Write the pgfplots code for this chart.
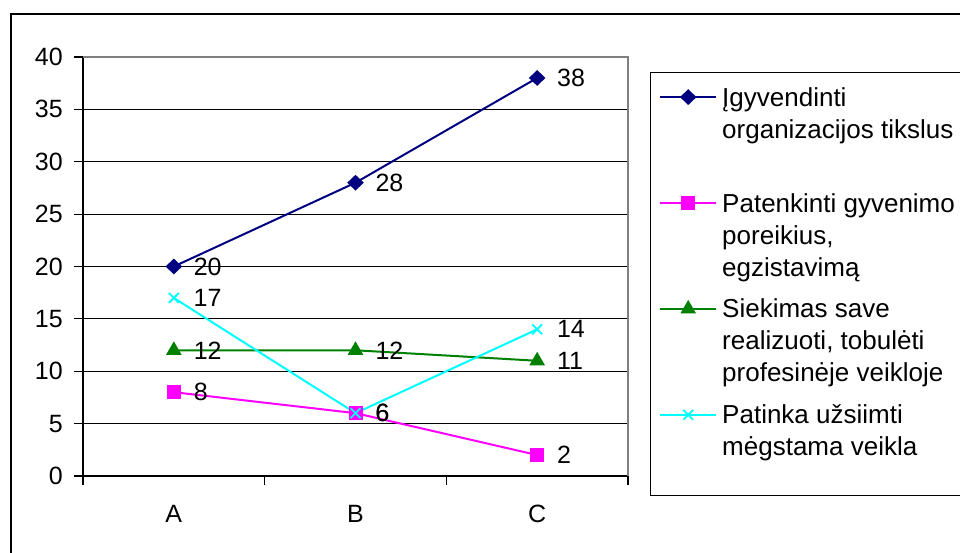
\documentclass[border=0pt]{standalone}
\usepackage{pgfplots}
\pgfplotsset{compat=1.18}
\usepackage{fontspec}
\setmainfont{Liberation Sans}
\definecolor{navyc}{RGB}{0,0,128}
\definecolor{magc}{RGB}{255,0,255}
\definecolor{greenc}{RGB}{0,128,0}
\definecolor{cyanc}{RGB}{0,255,255}
\definecolor{bordergray}{RGB}{128,128,128}
\begin{document}
\begin{tikzpicture}[font=\fontsize{25}{32}\selectfont]
\useasboundingbox (0,0) rectangle (960pt,553pt);
\clip (0,0) rectangle (960pt,553pt);
\fill[white] (0,0) rectangle (960pt,553pt);
\draw[line width=2.5pt] (11pt,-20pt) -- (11pt,539pt) -- (990pt,539pt);
\begin{axis}[
  at={(83pt,77pt)}, anchor=south west,
  scale only axis, width=545pt, height=419pt,
  xmin=-0.5, xmax=2.5, ymin=0, ymax=40,
  axis lines*=left,
  axis line style={line width=1.5pt, black},
  xtick={0,1,2}, xticklabels={A,B,C},
  minor xtick={-0.5,0.5,1.5,2.5},
  ytick={0,5,...,40},
  tick align=outside,
  major tick length=9pt, minor tick length=9pt,
  major x tick style={draw=none},
  minor x tick style={line width=1.2pt, black},
  major y tick style={line width=1.2pt, black},
  ymajorgrids=true,
  major grid style={line width=1pt, black},
  /pgf/number format/assume math mode=true,
  yticklabel style={inner sep=0pt, xshift=-11pt},
  xticklabel style={inner sep=0pt, yshift=-20pt},
  clip=false,
  every node near coord/.append style={anchor=west, inner sep=0pt, xshift=19pt, text=black, font=\fontsize{25}{32}\selectfont},
  legend style={at={(1.0404,0.9618)}, anchor=north west, draw=none, fill=none,
    inner xsep=9pt, inner ysep=8.5pt, row sep=78pt, column sep=3pt,
    cells={anchor=base west, inner sep=0pt}, font=\fontsize{26}{32}\selectfont},
  legend image code/.code={\draw[mark repeat=2,mark phase=2,#1] plot coordinates {(0pt,0pt) (28pt,0pt) (56pt,0pt)};},
  legend image post style={yshift=9pt},
  extra description/.code={
    \draw[bordergray, line width=1.5pt] (rel axis cs:0,1) -- (rel axis cs:1,1) -- (rel axis cs:1,0);
    \draw[black, line width=1pt] (rel axis cs:1.04037,0.96181) rectangle (rel axis cs:1.664,-0.04773);
  },
]
\addplot[color=navyc, line width=2pt, mark=diamond*, mark size=6.5pt, mark options={solid, fill=navyc, xscale=1.4}, nodes near coords] coordinates {(0,20) (1,28) (2,38)};
\addlegendentry{\parbox[t]{250pt}{\strut Įgyvendinti\\\strut organizacijos tikslus}}
\addplot[color=magc, line width=2pt, mark=square*, mark size=6pt, mark options={solid, fill=magc}, nodes near coords] coordinates {(0,8) (1,6) (2,2)};
\addlegendentry{\parbox[t]{250pt}{\strut Patenkinti gyvenimo\\\strut poreikius,\\\strut egzistavimą}}
\addplot[color=greenc, line width=2pt, mark=triangle*, mark size=7pt, mark options={solid, fill=greenc}, nodes near coords] coordinates {(0,12) (1,12) (2,11)};
\addlegendentry{\parbox[t]{250pt}{\strut Siekimas save\\\strut realizuoti, tobulėti\\\strut profesinėje veikloje}}
\addplot[color=cyanc, line width=2pt, mark=x, mark size=7pt, mark options={solid, line width=1.8pt}, nodes near coords] coordinates {(0,17) (1,6) (2,14)};
\addlegendentry{\parbox[t]{250pt}{\strut Patinka užsiimti\\\strut mėgstama veikla}}
\end{axis}
\end{tikzpicture}
\end{document}
